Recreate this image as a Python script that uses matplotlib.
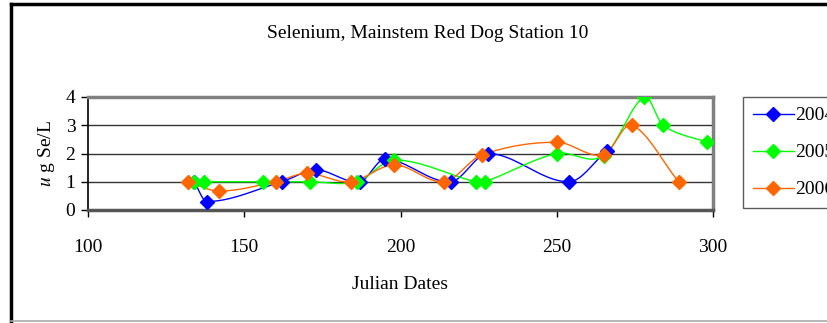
import numpy as np
import matplotlib
matplotlib.use("Agg")
import matplotlib.pyplot as plt
from matplotlib.lines import Line2D

plt.rcParams['font.family'] = ['Liberation Serif', 'DejaVu Serif']
plt.rcParams['mathtext.fontset'] = 'stix'

# Selenium readings by Julian date
days_2004 = [134, 138, 162, 173, 187, 195, 216, 228, 254, 266]
se_2004 = [1, 0.3, 1, 1.42, 1, 1.8, 1, 2, 1, 2.1]

days_2005 = [134, 137, 156, 171, 186, 198, 224, 227, 250, 265, 278, 284, 298]
se_2005 = [1, 1, 1, 1, 1, 1.77, 1, 1, 2, 1.92, 4, 3, 2.4]

days_2006 = [132, 142, 160, 170, 184, 198, 214, 226, 250, 265, 274, 289]
se_2006 = [1, 0.67, 1, 1.3, 1, 1.6, 1, 1.95, 2.4, 1.95, 3, 1]

years = ["2004", "2005", "2006"]
colors = ["#0000FF", "#00FF00", "#FF6600"]


def smooth(x, y, steps=20):
  # cubic hermite through the points (smoothed line look), x used as parameter
  x = np.asarray(x, float)
  y = np.asarray(y, float)
  n = len(x)
  m = np.zeros(n)
  m[0] = (y[1] - y[0]) / (x[1] - x[0])
  m[-1] = (y[-1] - y[-2]) / (x[-1] - x[-2])
  for i in range(1, n - 1):
    m[i] = (y[i + 1] - y[i - 1]) / (x[i + 1] - x[i - 1])
  t = np.linspace(0, 1, steps)
  h00 = 2 * t ** 3 - 3 * t ** 2 + 1
  h10 = t ** 3 - 2 * t ** 2 + t
  h01 = -2 * t ** 3 + 3 * t ** 2
  h11 = t ** 3 - t ** 2
  outx, outy = [], []
  for i in range(n - 1):
    h = x[i + 1] - x[i]
    outx.extend(x[i] + h * t)
    outy.extend(h00 * y[i] + h10 * h * m[i] + h01 * y[i + 1] + h11 * h * m[i + 1])
  return outx, outy


fig = plt.figure(figsize=(8.27, 3.23), dpi=100)
ax = fig.add_axes([88 / 827, 1 - 210 / 323, 625 / 827, 113 / 323])

series = [(days_2004, se_2004), (days_2005, se_2005), (days_2006, se_2006)]
for (d, s), year, c in zip(series, years, colors):
  sx, sy = smooth(d, s)
  ax.plot(sx, sy, color=c, lw=1.0, zorder=3)
  ax.plot(d, s, ls='none', marker='D', ms=7, color=c, mec=c, zorder=4)

ax.set_xlim(100, 300)
ax.set_ylim(0, 4)
ax.set_xticks([100, 150, 200, 250, 300])
ax.set_yticks([0, 1, 2, 3, 4])
ax.tick_params(labelsize=14, direction='out', length=5, width=1, colors='black')
ax.tick_params(axis='x', pad=16)
ax.tick_params(axis='y', pad=4)
for yv in [1, 2, 3]:
  ax.axhline(yv, color='#333333', lw=1, zorder=1)

ax.spines['top'].set_color('#808080')
ax.spines['top'].set_linewidth(2.5)
ax.spines['right'].set_color('#808080')
ax.spines['right'].set_linewidth(2.5)
ax.spines['bottom'].set_color('#555555')
ax.spines['bottom'].set_linewidth(2.5)
ax.spines['left'].set_color('black')
ax.spines['left'].set_linewidth(1.2)

ax.set_xlabel("Julian Dates", fontsize=14, labelpad=14)
ax.set_ylabel(r"$\mathit{u}$ g Se/L", fontsize=14, labelpad=6)
fig.text(428 / 827, 1 - 33 / 323, "Selenium, Mainstem Red Dog Station 10",
         ha='center', va='center', fontsize=14)

handles = [Line2D([], [], color=c, lw=1.0, marker='D', ms=7, mec=c) for c in colors]
leg = fig.legend(handles, years, loc='upper left', bbox_to_anchor=(743 / 827, 1 - 97 / 323),
                 fontsize=14, frameon=True, fancybox=False, edgecolor='#333333',
                 labelspacing=1.0, handlelength=2.1, handletextpad=0.1,
                 borderpad=0.5, borderaxespad=0)
leg.get_frame().set_linewidth(1.0)

# chart area border
fig.add_artist(Line2D([11 / 827, 11 / 827], [1 - 4 / 323, 1 - 321 / 323],
                      color='black', lw=2.5, transform=fig.transFigure))
fig.add_artist(Line2D([11 / 827, 1], [1 - 4 / 323, 1 - 4 / 323],
                      color='black', lw=2.5, transform=fig.transFigure))
fig.add_artist(Line2D([11 / 827, 1], [1 - 321 / 323, 1 - 321 / 323],
                      color='#aaaaaa', lw=1.2, transform=fig.transFigure))

fig.savefig("out.png", dpi=100)
